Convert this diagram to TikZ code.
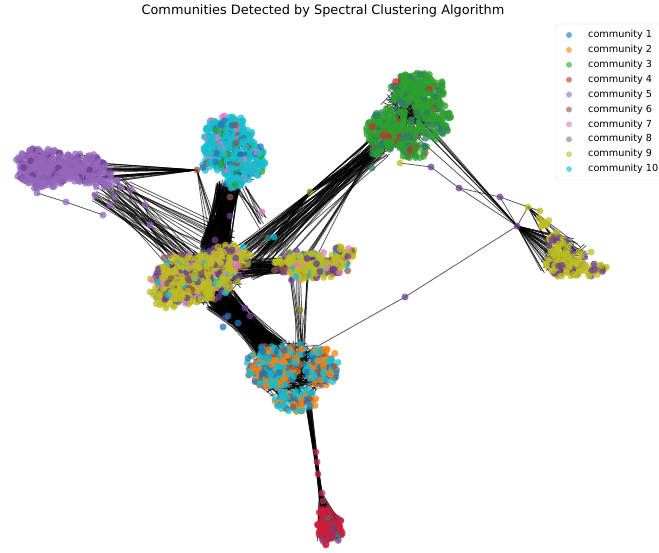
\documentclass[tikz,border=0pt]{standalone}
\usepackage{fontspec}
\setmainfont{DejaVu Sans}
\definecolor{c0}{HTML}{1F77B4}
\definecolor{c1}{HTML}{FF7F0E}
\definecolor{c2}{HTML}{2CA02C}
\definecolor{c3}{HTML}{D62728}
\definecolor{c4}{HTML}{9467BD}
\definecolor{c5}{HTML}{8C564B}
\definecolor{c6}{HTML}{E377C2}
\definecolor{c7}{HTML}{7F7F7F}
\definecolor{c8}{HTML}{BCBD22}
\definecolor{c9}{HTML}{17BECF}
\definecolor{dpurp}{HTML}{6A3D8F}
\definecolor{tealg}{HTML}{2E7D6A}
\definecolor{crim}{HTML}{C81E3C}
\pgfmathdeclarerandomlist{purpL}{{c4}{c4}{c4}{c4}{c4}{c4}{c4}{c4}{c4}{dpurp}}
\pgfmathdeclarerandomlist{cyanL}{{c9}{c9}{c9}{c9}{c9}{c9}{c9}{c9}{c9}{c9}{c9}{c9}{c0}{c0}{c0}{c6}{c6}{c5}{c2}}
\pgfmathdeclarerandomlist{greenL}{{c2}{c2}{c2}{c2}{c2}{c2}{c2}{c2}{c2}{c2}{c2}{c2}{c2}{c2}{c2}{c2}{tealg}{tealg}{tealg}{tealg}{c3}}
\pgfmathdeclarerandomlist{yelL}{{c8}{c8}{c8}{c8}{c8}{c8}{c8}{c8}{c8}{c8}{c8}{c8}{dpurp}{dpurp}{c6}{c5}{c9}}
\pgfmathdeclarerandomlist{rimL}{{dpurp}{dpurp}{dpurp}{c6}{c6}{c5}{c8}{c0}}
\pgfmathdeclarerandomlist{oraL}{{c9}{c9}{c9}{c9}{c9}{c1}{c1}{c1}{c1}{c0}{c0}{c5}{c5}}
\pgfmathdeclarerandomlist{redL}{{crim}{crim}{crim}{crim}{crim}{crim}{crim}{crim}{dpurp}{tealg}}
\pgfmathdeclarerandomlist{rightL}{{c8}{c8}{c8}{c8}{c8}{c8}{c8}{c8}{dpurp}{dpurp}{dpurp}}
% intra-blob edges: cx cy rx ry n
\newcommand\mkblobE[5]{%
  \foreach \k in {1,...,#5}{%
    \pgfmathsetmacro\ra{rnd^.7}\pgfmathsetmacro\ta{360*rnd}%
    \pgfmathsetmacro\rb{rnd^.7}\pgfmathsetmacro\tb{360*rnd}%
    \draw[edge] ({#1+#3*\ra*cos(\ta)},{#2+#4*\ra*sin(\ta)}) -- ({#1+#3*\rb*cos(\tb)},{#2+#4*\rb*sin(\tb)});}}
% bundle: ax ay arx ary bx by brx bry n
\newcommand\mkbundle[9]{%
  \foreach \k in {1,...,#9}{%
    \pgfmathsetmacro\xa{#1+#3*rand}%
    \pgfmathsetmacro\ya{#2+#4*rand}%
    \pgfmathsetmacro\xb{#5+#7*rand}%
    \pgfmathsetmacro\yb{#6+#8*rand}%
    \draw[edge] (\xa,\ya) -- (\xb,\yb);}}
% nodes: cx cy rx ry n list
\newcommand\mkblobN[6]{%
  \foreach \k in {1,...,#5}{%
    \pgfmathsetmacro\ra{rnd^.75}\pgfmathsetmacro\ta{360*rnd}%
    \pgfmathrandomitem{\col}{#6}%
    \fill[vtx,fill=\col] ({#1+#3*\ra*cos(\ta)},{#2+#4*\ra*sin(\ta)}) circle[radius=3.5pt];}}
\begin{document}
\begin{tikzpicture}[x=1pt,y=-1pt,
  edge/.style={black,opacity=.65,line width=.8pt},
  vtx/.style={opacity=.75},
  lab/.style={anchor=west,font=\fontsize{9.7}{11}\selectfont,inner sep=0pt}]
\useasboundingbox (0,0) rectangle (659,552);
\pgfmathsetseed{11}
% ---------- named single vertices ----------
\coordinate (cyhub) at (197,170);
\coordinate (olv) at (310,192);
\coordinate (hubR) at (517,226);
\coordinate (p1) at (431,167);
\coordinate (p2) at (459,188);
\coordinate (p3) at (500,197);
\coordinate (o1) at (528,207);
\coordinate (o2) at (540,211);
\coordinate (o3) at (591,252);
\coordinate (olg) at (400,163);
\coordinate (mid) at (405,297);
\coordinate (orhub) at (302,355);
\coordinate (orbot) at (310,408);
\coordinate (r1) at (316,452);
\coordinate (r2) at (317,462);
\coordinate (r3) at (318,474);
\coordinate (r4) at (322,493);
\coordinate (r5) at (323,501);
\coordinate (pp1) at (37,193);
\coordinate (pp2) at (66,202);
\coordinate (pp3) at (103,215);
\coordinate (pp4) at (145,205);
\coordinate (pp5) at (150,225);
\coordinate (sy) at (300,310);
% ---------- edges ----------
\mkblobE{45}{168}{30}{20}{90}
\mkblobE{80}{167}{25}{15}{60}
\mkblobE{228}{140}{22}{22}{80}
\mkblobE{240}{165}{22}{20}{80}
\mkblobE{410}{112}{32}{34}{150}
\mkblobE{200}{278}{45}{28}{220}
\mkblobE{310}{266}{38}{14}{60}
\mkblobE{292}{370}{42}{32}{220}
\mkblobE{330}{528}{12}{16}{60}
\mkblobE{565}{258}{28}{20}{50}
% bundles
\mkbundle{100}{172}{18}{10}{197}{170}{0}{0}{30}
\mkbundle{110}{190}{20}{12}{185}{255}{25}{12}{40}
\mkbundle{120}{185}{10}{8}{225}{240}{10}{10}{10}
\mkbundle{228}{186}{12}{6}{215}{250}{15}{10}{180}
\mkbundle{240}{185}{8}{5}{262}{225}{5}{10}{10}
\mkbundle{197}{170}{0}{0}{215}{240}{10}{10}{6}
\mkbundle{255}{255}{20}{10}{310}{192}{0}{0}{25}
\mkbundle{310}{192}{0}{0}{380}{145}{10}{10}{25}
\mkbundle{255}{255}{25}{12}{380}{145}{12}{12}{45}
\mkbundle{375}{155}{5}{5}{300}{260}{20}{5}{10}
\mkbundle{240}{270}{20}{10}{300}{265}{20}{8}{80}
\mkbundle{220}{300}{15}{10}{272}{350}{15}{10}{240}
\mkbundle{300}{275}{10}{5}{300}{355}{5}{3}{12}
\mkbundle{309}{408}{3}{2}{321}{497}{1.5}{5}{25}
\mkbundle{321}{497}{2}{6}{330}{530}{13}{14}{45}
\mkbundle{420}{130}{15}{15}{517}{226}{0}{0}{8}
\mkbundle{517}{226}{0}{0}{565}{255}{25}{20}{40}
\mkbundle{528}{207}{0}{0}{565}{255}{20}{15}{10}
\draw[edge] (olg) -- (p1) -- (p2) -- (p3) -- (o1) -- (o2);
\draw[edge] (p2) -- (hubR) (p3) -- (hubR) (o1) -- (hubR);
\draw[edge] (hubR) -- (mid) -- (orhub);
\draw[edge] (orbot) -- (r1) -- (r2) -- (r3) -- (r4) -- (r5);
\draw[edge] (pp1) -- (pp2) -- (pp3) (pp4) -- (pp5);
\draw[edge] (sy) -- (orhub);
% ---------- vertices ----------
% purple community
\mkblobN{42}{168}{28}{21}{260}{purpL}
\mkblobN{80}{167}{26}{15}{150}{purpL}
\mkblobN{100}{178}{18}{10}{30}{purpL}
\foreach \p in {pp1,pp2,pp3,pp4,pp5}{\fill[vtx,fill=c4] (\p) circle[radius=3.5pt];}
\foreach \q in {(95,195),(110,205),(115,197),(121,187),(117,180),(130,190),(100,180)}{\fill[vtx,fill=c4] \q circle[radius=3.5pt];}
% cyan community
\mkblobN{228}{133}{24}{18}{180}{cyanL}
\mkblobN{240}{160}{26}{22}{200}{cyanL}
\mkblobN{212}{155}{13}{18}{60}{cyanL}
\mkblobN{235}{183}{12}{8}{30}{cyanL}
\fill[vtx,fill=c5] (cyhub) circle[radius=3.5pt];
\fill[vtx,fill=c5] (230,197) circle[radius=3.5pt];
\fill[vtx,fill=c6] (262,212) circle[radius=3.5pt];
% green community
\mkblobN{418}{92}{28}{20}{240}{greenL}
\mkblobN{392}{130}{26}{22}{240}{greenL}
\mkblobN{433}{120}{18}{20}{90}{greenL}
\mkblobN{412}{150}{16}{10}{50}{greenL}
\mkblobN{378}{150}{8}{8}{20}{greenL}
\fill[vtx,fill=tealg] (372,168) circle[radius=3.5pt];
% big yellow community
\mkblobN{195}{278}{45}{28}{160}{rimL}
\mkblobN{195}{278}{40}{24}{330}{yelL}
\mkblobN{230}{258}{22}{14}{120}{yelL}
\mkblobN{170}{292}{20}{18}{80}{yelL}
\foreach \q in {(215,240),(232,250),(230,216),(245,308),(250,316),(225,318)}{\fill[vtx,fill=dpurp] \q circle[radius=3.5pt];}
\foreach \q in {(223,327),(238,323),(228,316)}{\fill[vtx,fill=c0] \q circle[radius=3.5pt];}
\fill[vtx,fill=tealg] (268,238) circle[radius=3.5pt];
\fill[vtx,fill=c9] (274,237) circle[radius=3.5pt];
% small yellow community
\mkblobN{310}{266}{40}{16}{50}{rimL}
\mkblobN{310}{266}{38}{13}{170}{yelL}
\mkblobN{343}{253}{12}{8}{40}{yelL}
\fill[vtx,fill=c8!70!black] (olv) circle[radius=3.5pt];
\fill[vtx,fill=c8!70!black] (sy) circle[radius=3.5pt];
% orange/cyan community
\mkblobN{273}{366}{28}{22}{230}{oraL}
\mkblobN{322}{366}{17}{20}{120}{oraL}
\mkblobN{296}{400}{22}{12}{90}{oraL}
\mkblobN{292}{350}{12}{8}{30}{oraL}
% red community
\mkblobN{330}{530}{14}{16}{100}{redL}
\mkblobN{324}{512}{5}{8}{15}{redL}
\foreach \p in {r1,r2,r3,r4,r5}{\fill[vtx,fill=crim!80!c4] (\p) circle[radius=3.5pt];}
% right community
\mkblobN{568}{264}{22}{14}{100}{rightL}
\mkblobN{558}{245}{10}{14}{40}{rightL}
\mkblobN{594}{270}{14}{7}{25}{rightL}
\mkblobN{540}{222}{10}{6}{8}{rightL}
\foreach \p in {hubR,p1,p2,p3,mid}{\fill[vtx,fill=dpurp] (\p) circle[radius=3.5pt];}
\foreach \p in {o1,o2,o3,olg}{\fill[vtx,fill=c8] (\p) circle[radius=3.5pt];}
% ---------- title ----------
\node[font=\fontsize{12.9}{15}\selectfont] (title) at (323,11) {Communities Detected by Spectral Clustering Algorithm};
% ---------- legend ----------
\path[draw=black!15,fill=white,fill opacity=.8,rounded corners=2pt] (556,24) rectangle (668,180);
\foreach \c [count=\i] in {c0,c1,c2,c3,c4,c5,c6,c7,c8,c9}{
  \pgfmathsetmacro\yy{35+14.9*(\i-1)}
  \fill[fill=\c,opacity=.6] (569,\yy) circle[radius=3pt];
  \node[lab] (leg\i) at (588,\yy) {community \i};
}
\end{tikzpicture}
\end{document}
